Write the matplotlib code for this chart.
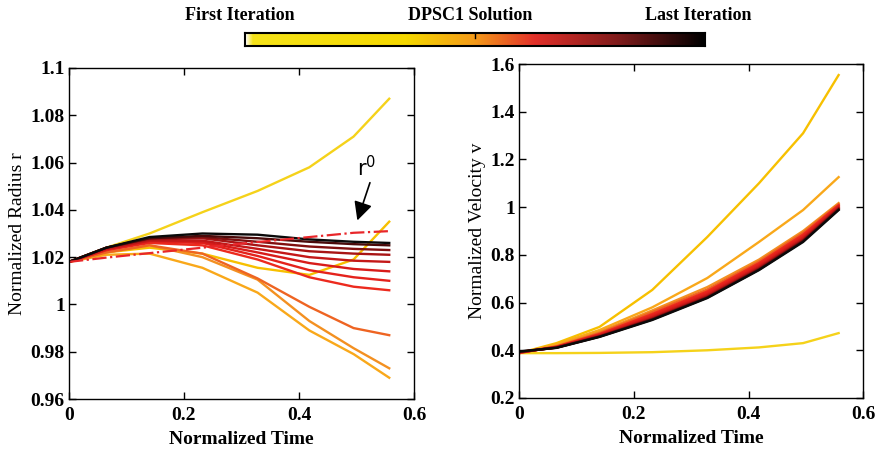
import numpy as np
import matplotlib
matplotlib.use("Agg")
import matplotlib.pyplot as plt
from matplotlib.colors import LinearSegmentedColormap

plt.rcParams['font.family'] = ['Liberation Serif', 'DejaVu Serif']

# normalized time nodes
t = [0, 0.065, 0.14, 0.232, 0.328, 0.418, 0.495, 0.557]

# radius, one row per iteration (first -> last)
r_iters = [
    [1.018, 1.024, 1.030, 1.039, 1.048, 1.058, 1.071, 1.087],
    [1.018, 1.022, 1.024, 1.0215, 1.0155, 1.0125, 1.019, 1.035],
    [1.018, 1.021, 1.0215, 1.0155, 1.005, 0.989, 0.979, 0.969],
    [1.018, 1.022, 1.025, 1.020, 1.0105, 0.993, 0.9815, 0.973],
    [1.018, 1.022, 1.025, 1.0215, 1.011, 0.999, 0.990, 0.987],
    [1.018, 1.023, 1.026, 1.025, 1.019, 1.0115, 1.0075, 1.006],
    [1.018, 1.023, 1.0265, 1.026, 1.0205, 1.0145, 1.0115, 1.010],
    [1.018, 1.0235, 1.027, 1.0265, 1.022, 1.0175, 1.015, 1.014],
    [1.018, 1.0235, 1.027, 1.027, 1.0235, 1.020, 1.0185, 1.018],
    [1.018, 1.024, 1.0275, 1.028, 1.025, 1.0225, 1.0215, 1.021],
    [1.018, 1.024, 1.028, 1.0285, 1.0265, 1.0245, 1.0235, 1.023],
    [1.018, 1.024, 1.028, 1.029, 1.028, 1.0265, 1.0255, 1.025],
    [1.018, 1.024, 1.0285, 1.030, 1.0295, 1.0275, 1.0265, 1.026],
]
r0 = [1.018, 1.0198, 1.0217, 1.024, 1.0264, 1.0285, 1.0303, 1.031]

# velocity, one row per iteration
v_iters = [
    [0.388, 0.388, 0.389, 0.392, 0.400, 0.412, 0.430, 0.472],
    [0.388, 0.430, 0.498, 0.653, 0.875, 1.100, 1.310, 1.554],
    [0.388, 0.425, 0.485, 0.580, 0.703, 0.854, 0.988, 1.126],
    [0.388, 0.418, 0.477, 0.567, 0.665, 0.780, 0.900, 1.017],
    [0.388, 0.416, 0.472, 0.560, 0.655, 0.772, 0.893, 1.012],
    [0.390, 0.415, 0.468, 0.552, 0.647, 0.765, 0.885, 1.008],
    [0.390, 0.414, 0.465, 0.546, 0.641, 0.759, 0.879, 1.005],
    [0.391, 0.413, 0.463, 0.541, 0.635, 0.753, 0.873, 1.001],
    [0.392, 0.412, 0.461, 0.537, 0.630, 0.748, 0.868, 0.998],
    [0.393, 0.412, 0.459, 0.533, 0.626, 0.744, 0.863, 0.995],
    [0.393, 0.411, 0.458, 0.531, 0.623, 0.741, 0.860, 0.993],
    [0.394, 0.411, 0.457, 0.529, 0.621, 0.738, 0.857, 0.990],
    [0.395, 0.410, 0.456, 0.527, 0.619, 0.736, 0.854, 0.988],
]

line_colors = ['#f5d21a', '#f7c000', '#f9a81a', '#f39021', '#ee6422',
               '#ec2a1e', '#e4221c', '#d81c1a', '#c41818', '#a81414',
               '#801010', '#4a0a0a', '#0a0a0a']

fig = plt.figure(figsize=(8.8, 4.5), dpi=100)
ax1 = fig.add_axes([0.0784, 0.1133, 0.392, 0.7356])
ax2 = fig.add_axes([0.590, 0.1156, 0.391, 0.742])

for i, row in enumerate(r_iters):
    ax1.plot(t, row, color=line_colors[i], lw=1.7)
ax1.plot(t, r0, color='#e8262a', lw=1.6, ls='-.')
for i, row in enumerate(v_iters):
    ax2.plot(t, row, color=line_colors[i], lw=1.7)

ax1.set_xlim(0, 0.6)
ax1.set_ylim(0.96, 1.1)
ax1.set_yticks([0.96, 0.98, 1, 1.02, 1.04, 1.06, 1.08, 1.1])
ax1.set_yticklabels(['0.96', '0.98', '1', '1.02', '1.04', '1.06', '1.08', '1.1'])
ax2.set_xlim(0, 0.6)
ax2.set_ylim(0.2, 1.6)
ax2.set_yticks([0.2, 0.4, 0.6, 0.8, 1, 1.2, 1.4, 1.6])
ax2.set_yticklabels(['0.2', '0.4', '0.6', '0.8', '1', '1.2', '1.4', '1.6'])

for ax in (ax1, ax2):
    ax.set_xticks([0, 0.2, 0.4, 0.6])
    ax.set_xticklabels(['0', '0.2', '0.4', '0.6'])
    ax.tick_params(direction='in', top=True, right=True, length=5,
                   labelsize=14, width=1, pad=3)
    ax.tick_params(axis='x', pad=6)
    for lab in ax.get_xticklabels() + ax.get_yticklabels():
        lab.set_fontweight('bold')
    for s in ax.spines.values():
        s.set_linewidth(1)
    ax.set_xlabel('Normalized Time', fontsize=14, fontweight='bold', labelpad=5)

ax1.set_ylabel('Normalized Radius r', fontsize=14, labelpad=3)
ax2.set_ylabel('Normalized Velocity v', fontsize=14, labelpad=3)

ax1.annotate('', xy=(0.5, 1.0344), xytext=(0.525, 1.0526),
             arrowprops=dict(arrowstyle='-|>', color='black', lw=1.2,
                             mutation_scale=28))
ax1.text(0.517, 1.0577, r'r$^{\mathregular{0}}$', fontsize=15,
         family='DejaVu Sans', ha='center', va='center')

# colorbar strip
cmap = LinearSegmentedColormap.from_list('iters', [
    (0.0, '#ffffff'), (0.015, '#f5e31a'), (0.35, '#f5d800'),
    (0.5, '#f49a1a'), (0.63, '#e2302a'), (0.82, '#7a1a1a'), (1.0, '#000000')])
cax = fig.add_axes([245 / 880, 1 - 46 / 450, 460 / 880, 13 / 450])
cax.imshow(np.linspace(0, 1, 256)[None, :], cmap=cmap, aspect='auto',
           extent=[0, 1, 0, 1])
cax.set_xticks([])
cax.set_yticks([])
for s in cax.spines.values():
    s.set_linewidth(1.5)
cax.plot([0.5, 0.5], [1, 0.6], color='black', lw=1)

fig.text(240 / 880, 1 - 15 / 450, 'First Iteration', fontsize=13,
         fontweight='bold', ha='center', va='center')
fig.text(470 / 880, 1 - 15 / 450, 'DPSC1 Solution', fontsize=13,
         fontweight='bold', ha='center', va='center')
fig.text(698 / 880, 1 - 15 / 450, 'Last Iteration', fontsize=13,
         fontweight='bold', ha='center', va='center')

fig.savefig('out.png', dpi=100)
